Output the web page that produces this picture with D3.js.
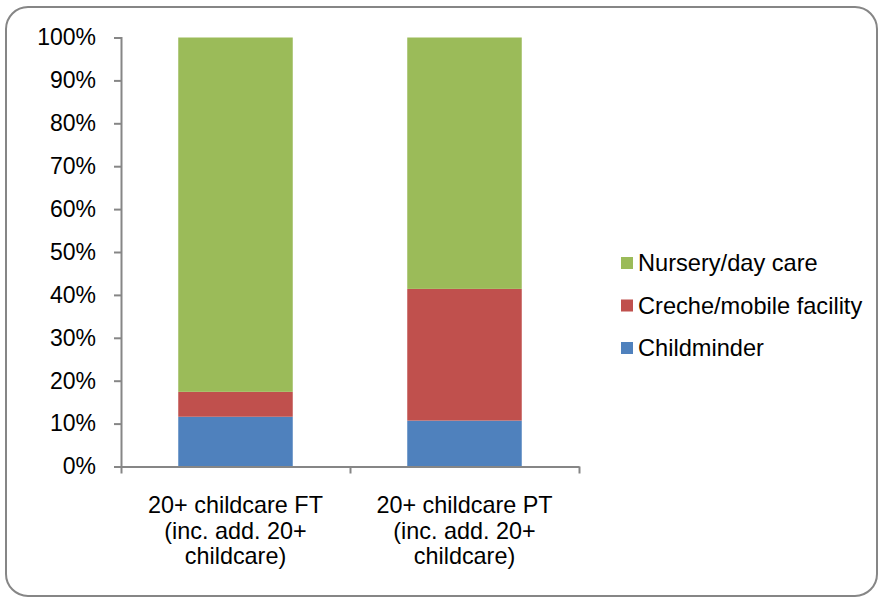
<!DOCTYPE html>
<html><head><meta charset="utf-8">
<script src="https://cdn.jsdelivr.net/npm/d3@7"></script>
<style>body{margin:0;background:#fff}svg{display:block}</style>
</head><body>
<script>
const categories = [["20+ childcare FT","(inc. add. 20+","childcare)"],["20+ childcare PT","(inc. add. 20+","childcare)"]];
const seriesNames = ["Childminder","Creche/mobile facility","Nursery/day care"];
const seriesColors = ["#4f81bd","#c0504d","#9bbb59"];
const childminder = [11.6, 10.7];
const creche = [5.8, 30.7];
const nursery = [82.6, 58.6];
const yTicks = [0,10,20,30,40,50,60,70,80,90,100];

const W=880,H=599;
const svg=d3.select("body").append("svg").attr("width",W).attr("height",H);
svg.append("rect").attr("x",6).attr("y",7).attr("width",871).attr("height",589).attr("rx",22).attr("ry",22)
  .attr("fill","#fff").attr("stroke","#868686").attr("stroke-width",2);

const x=d3.scaleBand().domain([0,1]).range([121,579]).paddingInner(0.5).paddingOuter(0.25);
const y=d3.scaleLinear().domain([0,100]).range([466.5,37.5]);
const font="Liberation Sans, Arial, sans-serif";

const data=categories.map((c,i)=>({i,Childminder:childminder[i],"Creche/mobile facility":creche[i],"Nursery/day care":nursery[i]}));
const stack=d3.stack().keys(seriesNames)(data);
svg.append("g").selectAll("g").data(stack).join("g").attr("fill",(d,i)=>seriesColors[i])
  .selectAll("rect").data(d=>d).join("rect")
  .attr("x",d=>x(d.data.i)).attr("width",x.bandwidth())
  .attr("y",d=>y(d[1])).attr("height",d=>y(d[0])-y(d[1]));

// y axis
const ya=svg.append("g").attr("transform","translate(121,0)")
  .call(d3.axisLeft(y).tickValues(yTicks).tickFormat(d=>d+"%").tickSize(7).tickSizeOuter(7));
ya.select(".domain").attr("stroke","#868686").attr("stroke-width",2);
ya.selectAll(".tick line").attr("stroke","#868686").attr("stroke-width",2);
ya.selectAll("text").attr("font-family",font).attr("font-size",23).attr("fill","#000").attr("x",-25);

// x axis
const xb=d3.scaleLinear().domain([0,2]).range([121,579]);
const xa=svg.append("g").attr("transform","translate(0,466.5)")
  .call(d3.axisBottom(xb).tickValues([0,1,2]).tickFormat("").tickSize(7).tickSizeOuter(0));
xa.select(".domain").attr("stroke","#868686").attr("stroke-width",2);
xa.selectAll(".tick line").attr("stroke","#868686").attr("stroke-width",2);

categories.forEach((lines,i)=>{
  const t=svg.append("text").attr("font-family",font).attr("font-size",23.4).attr("text-anchor","middle")
    .attr("x",x(i)+x.bandwidth()/2);
  lines.forEach((l,j)=>t.append("tspan").attr("x",x(i)+x.bandwidth()/2).attr("y",513+j*25.5).text(l));
});

// legend
const legendOrder=[2,1,0];
const lg=svg.append("g");
legendOrder.forEach((si,k)=>{
  const cy=263+k*42.5;
  lg.append("rect").attr("x",621).attr("y",cy-6).attr("width",12).attr("height",12).attr("fill",seriesColors[si]);
  lg.append("text").attr("x",638).attr("y",cy+8).attr("font-family",font).attr("font-size",23.6).text(seriesNames[si]);
});
</script>
</body></html>
